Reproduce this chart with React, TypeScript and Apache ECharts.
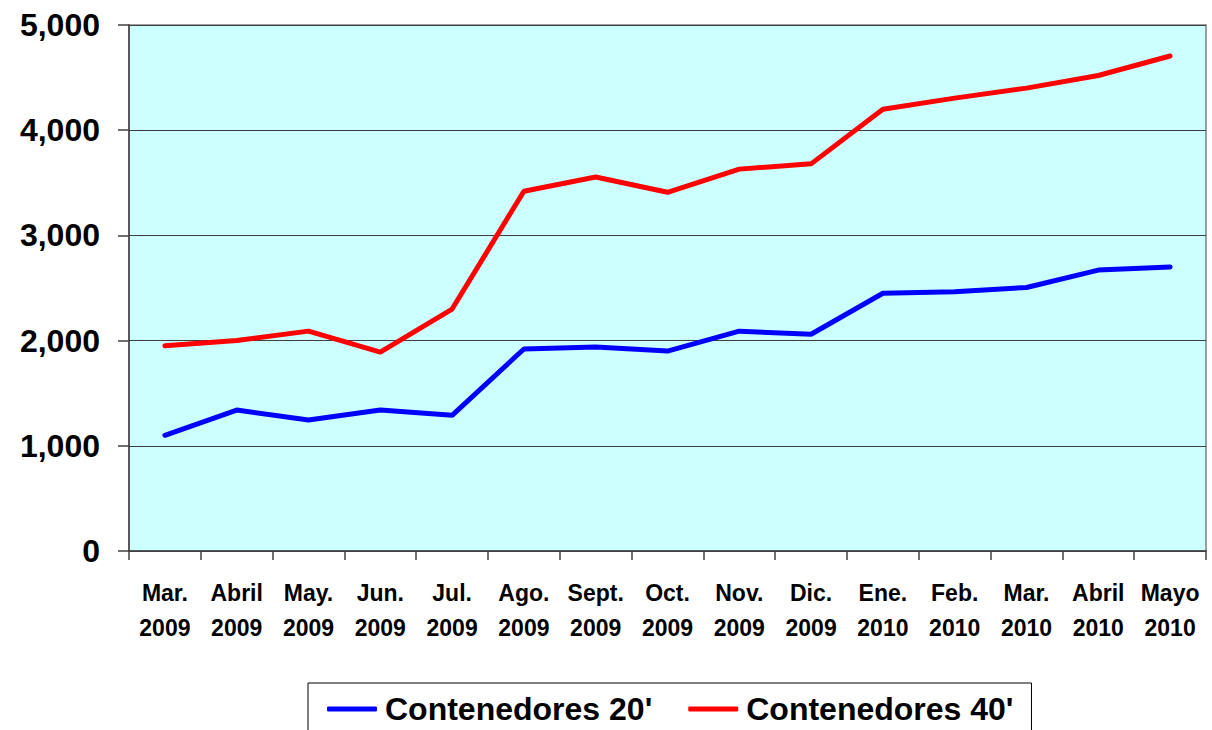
import React, { useEffect, useRef } from "react";
import * as echarts from "echarts";

const categories = [
  "Mar.\n2009", "Abril\n2009", "May.\n2009", "Jun.\n2009", "Jul.\n2009",
  "Ago.\n2009", "Sept.\n2009", "Oct.\n2009", "Nov.\n2009", "Dic.\n2009",
  "Ene.\n2010", "Feb.\n2010", "Mar.\n2010", "Abril\n2010", "Mayo\n2010",
];
const cont20 = [1100, 1340, 1245, 1340, 1290, 1920, 1940, 1900, 2090, 2060, 2450, 2465, 2505, 2670, 2700];
const cont40 = [1950, 2000, 2090, 1890, 2300, 3420, 3555, 3410, 3630, 3680, 4200, 4305, 4400, 4520, 4705];
const seriesNames = ["Contenedores 20'", "Contenedores 40'"];

const FONT = "'Liberation Sans', Arial, sans-serif";

export default function App() {
  const ref = useRef<HTMLDivElement>(null);
  useEffect(() => {
    if (!ref.current) return;
    const chart = echarts.init(ref.current, undefined, { renderer: "svg" });
    chart.setOption({
      animation: false,
      backgroundColor: "#ffffff",
      grid: {
        left: 129,
        right: 6,
        top: 25,
        bottom: 179,
        show: true,
        backgroundColor: "#CCFFFF",
        borderColor: "#808080",
        borderWidth: 1.5,
      },
      legend: {
        data: seriesNames,
        left: 308,
        top: 683,
        width: 760,
        borderColor: "#000000",
        borderWidth: 1,
        padding: [10, 18, 30, 19],
        itemGap: 36,
        itemWidth: 50,
        itemHeight: 5,
        icon: "roundRect",
        textStyle: {
          fontFamily: FONT,
          fontSize: 32,
          fontWeight: "bold",
          color: "#000000",
          padding: [0, 0, 0, 3],
        },
      },
      xAxis: {
        type: "category",
        data: categories,
        boundaryGap: true,
        axisLine: { lineStyle: { color: "#404040", width: 1.5 } },
        axisTick: { show: true, length: 9, lineStyle: { color: "#404040", width: 1.5 } },
        axisLabel: {
          interval: 0,
          margin: 24,
          fontFamily: FONT,
          fontSize: 23,
          fontWeight: "bold",
          color: "#000000",
          lineHeight: 35,
        },
      },
      yAxis: {
        type: "value",
        min: 0,
        max: 5000,
        interval: 1000,
        axisLine: { show: true, lineStyle: { color: "#404040", width: 1.5 } },
        axisTick: { show: true, length: 11, lineStyle: { color: "#404040", width: 1.5 } },
        splitLine: { show: true, lineStyle: { color: "#404040", width: 1 } },
        axisLabel: {
          margin: 29,
          fontFamily: FONT,
          fontSize: 32,
          fontWeight: "bold",
          color: "#000000",
          formatter: (v: number) => v.toLocaleString("en-US"),
        },
      },
      series: [
        {
          name: seriesNames[0],
          type: "line",
          data: cont20,
          symbol: "none",
          lineStyle: { color: "#0000FF", width: 5, cap: "round" },
          itemStyle: { color: "#0000FF" },
        },
        {
          name: seriesNames[1],
          type: "line",
          data: cont40,
          symbol: "none",
          lineStyle: { color: "#FF0000", width: 5, cap: "round" },
          itemStyle: { color: "#FF0000" },
        },
      ],
    });
    return () => chart.dispose();
  }, []);
  return (
    <div
      ref={ref}
      style={{ position: "fixed", left: 0, top: 0, width: 1212, height: 730 }}
    />
  );
}
